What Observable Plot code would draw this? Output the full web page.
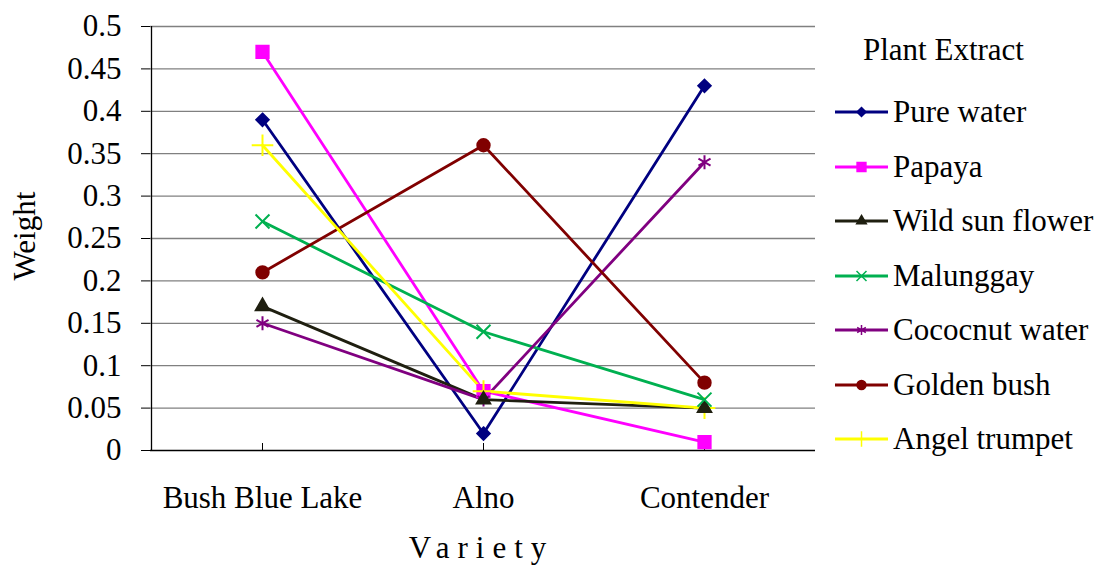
<!DOCTYPE html>
<html>
<head>
<meta charset="utf-8">
<script src="https://cdn.jsdelivr.net/npm/d3@7"></script>
<script src="https://cdn.jsdelivr.net/npm/@observablehq/plot@0.6"></script>
<style>
  html, body { margin: 0; padding: 0; background: #fff; }
  #chart { position: relative; width: 1102px; height: 571px; font-family: "Liberation Serif", "Times New Roman", serif; }
  #chart svg text { font-family: "Liberation Serif", "Times New Roman", serif; }
  #legend { position: absolute; left: 833px; top: 28px; font-size: 31px; color: #000; font-family: "Liberation Serif", "Times New Roman", serif; }
  #legend .title { margin-left: 30px; height: 44px; line-height: 44px; margin-bottom: 13px; }
  #legend .item { display: flex; align-items: center; height: 54.5px; }
  #legend .item span { margin-left: 4px; white-space: nowrap; }
</style>
</head>
<body>
<div id="chart"><div id="legend"></div></div>
<script>
// Varieties on the x axis
const varieties = ["Bush Blue Lake", "Alno", "Contender"];

// Plant extracts (series)
const extracts = ["Pure water", "Papaya", "Wild sun flower", "Malunggay", "Cococnut water", "Golden bush", "Angel trumpet"];

// Weight per variety, one array per extract
const pureWater     = [0.39, 0.02, 0.43];
const papaya        = [0.47, 0.07, 0.01];
const wildSunFlower = [0.17, 0.06, 0.05];
const malunggay     = [0.27, 0.14, 0.06];
const coconutWater  = [0.15, 0.06, 0.34];
const goldenBush    = [0.21, 0.36, 0.08];
const angelTrumpet  = [0.36, 0.07, 0.05];

// Y axis ticks
const yTicks = [0, 0.05, 0.1, 0.15, 0.2, 0.25, 0.3, 0.35, 0.4, 0.45, 0.5];

// Series styling
const colors  = ["#000080", "#ff00ff", "#1f1f10", "#00b050", "#800080", "#800000", "#ffff00"];
const symbols = ["diamond2", "square2", "triangle2", "times", "asterisk", "circle", "plus"];
const markerR = {"diamond2": 5.6, "square2": 7.8, "triangle2": 6.4, "times": 6.4, "asterisk": 6.6, "circle": 6.2, "plus": 7};

const seriesValues = [pureWater, papaya, wildSunFlower, malunggay, coconutWater, goldenBush, angelTrumpet];
const rows = extracts.flatMap((e, i) =>
  varieties.map((v, j) => ({extract: e, variety: v, weight: seriesValues[i][j], sym: symbols[i]}))
);

const fmt = d => String(+d.toFixed(2));
const serif = "'Liberation Serif', 'Times New Roman', serif";

const plot = Plot.plot({
  width: 1102,
  height: 571,
  marginLeft: 150,
  marginRight: 287,
  marginTop: 26,
  marginBottom: 121,
  style: {fontFamily: serif, fontSize: "31px", color: "#000", background: "transparent"},
  x: {type: "point", domain: varieties, padding: 0.5},
  y: {domain: [0, 0.5]},
  color: {domain: extracts, range: colors},
  symbol: {domain: extracts, range: symbols},
  r: {type: "identity"},
  marks: [
    Plot.gridY(yTicks.filter(d => d > 0), {stroke: "#808080", strokeOpacity: 1, strokeWidth: 1.3}),
    Plot.axisY({ticks: yTicks, tickFormat: fmt, tickSize: 9, tickPadding: 20, label: null, fontSize: 31}),
    Plot.ruleX([0], {x: () => varieties[0], dx: -111, stroke: "#000", strokeWidth: 1.3}),
    Plot.ruleY([0], {stroke: "#000", strokeWidth: 1.3}),
    Plot.axisX({tickSize: 7, dy: -7, text: null, label: null}),
    Plot.axisX({tickSize: 0, tickPadding: 35, label: null, fontSize: 31}),
    Plot.line(rows, {x: "variety", y: "weight", z: "extract", stroke: "extract", strokeWidth: 2.8}),
    Plot.dot(rows, {
      x: "variety", y: "weight", symbol: "extract",
      fill: "extract", stroke: "extract", strokeWidth: 2,
      r: d => markerR[d.sym]
    }),
    Plot.text(["Weight"], {text: d => d, frameAnchor: "left", dx: -125, dy: 42, rotate: -90, fontSize: 31}),
    Plot.text(["Variety"], {text: d => d, frameAnchor: "bottom", dx: -1.5, dy: 107, fontSize: 31})
  ]
});

// Spaced-out lettering for the x axis title
d3.select(plot).selectAll("text").filter(function () { return this.textContent === "Variety"; })
  .attr("letter-spacing", "8px");

document.getElementById("chart").prepend(plot);

// Legend
const legend = d3.select("#legend");
legend.append("div").attr("class", "title").text("Plant Extract");
const symTypes = {
  "diamond2": d3.symbolDiamond2, "square2": d3.symbolSquare2, "triangle2": d3.symbolTriangle2,
  "times": d3.symbolTimes, "asterisk": d3.symbolAsterisk, "circle": d3.symbolCircle, "plus": d3.symbolPlus
};
extracts.forEach((e, i) => {
  const item = legend.append("div").attr("class", "item");
  const svg = item.append("svg").attr("width", 56).attr("height", 20);
  svg.append("line").attr("x1", 2).attr("x2", 55).attr("y1", 10).attr("y2", 10)
    .attr("stroke", colors[i]).attr("stroke-width", 2.8);
  const r = markerR[symbols[i]] * 0.72;
  svg.append("path")
    .attr("transform", "translate(28.5,10)")
    .attr("d", d3.symbol(symTypes[symbols[i]], Math.PI * r * r)())
    .attr("fill", colors[i]).attr("stroke", colors[i]).attr("stroke-width", 1.5);
  item.append("span").text(e);
});
</script>
</body>
</html>
